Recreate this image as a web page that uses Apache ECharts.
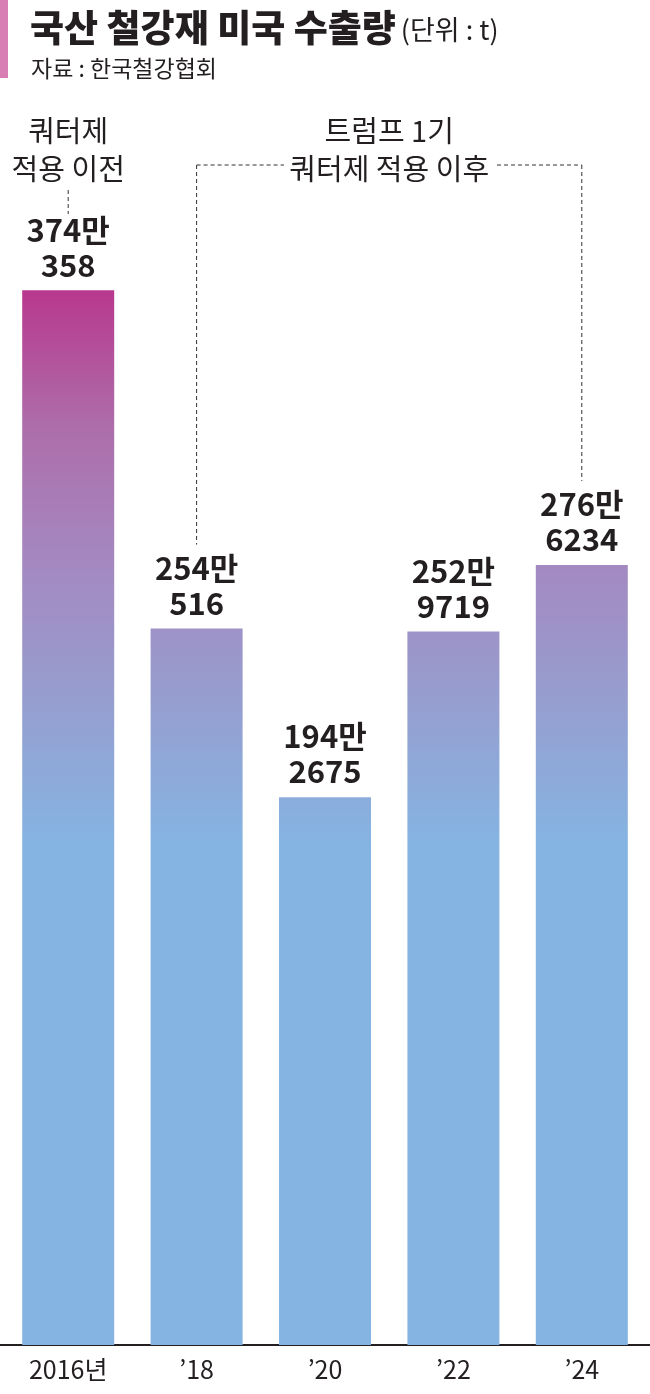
<!DOCTYPE html>
<html><head><meta charset="utf-8">
<script src="https://cdn.jsdelivr.net/npm/echarts@6/dist/echarts.min.js"></script>
<style>html,body{margin:0;padding:0;background:#fff}#c{width:650px;height:1394px}</style>
</head><body><div id="c"></div>
<script>
const categories = ['2016년', '’18', '’20', '’22', '’24'];
const values = [3740358, 2540516, 1942675, 2529719, 2766234];
const labelTop = ['374만', '254만', '194만', '252만', '276만'];
const labelBottom = ['358', '516', '2675', '9719', '6234'];

const FONT = '"Noto Sans CJK KR", "Noto Sans", sans-serif';
const chart = echarts.init(document.getElementById('c'), null, {renderer: 'canvas'});

const option = {
  animation: false,
  backgroundColor: '#fff',
  title: [
    {left: 25, top: 0, text: '{a|국산 철강재 미국 수출량} {b|(단위 : t)}',
     textStyle: {rich: {
       a: {fontFamily: FONT, fontSize: 37, fontWeight: 900, color: '#231f20', lineHeight: 46},
       b: {fontFamily: FONT, fontSize: 27, fontWeight: 'normal', color: '#231f20', lineHeight: 46, padding: [4,0,0,0]}
     }}},
    {left: 26, top: 52, text: '자료 : 한국철강협회',
     textStyle: {fontFamily: FONT, fontSize: 23, fontWeight: 'normal', color: '#231f20'}}
  ],
  grid: {left: 4, right: 4, top: 217, bottom: 49, containLabel: false},
  xAxis: {
    type: 'category', data: categories,
    axisLine: {show: false}, axisTick: {show: false},
    axisLabel: {fontFamily: FONT, fontSize: 25, color: '#231f20', margin: 12}
  },
  yAxis: {type: 'value', min: 0, max: 4000000, show: false, splitLine: {show: false}},
  series: [{
    type: 'bar', barWidth: 92,
    data: values,
    itemStyle: {color: new echarts.graphic.LinearGradient(0, 290, 0, 845, [
      {offset: 0, color: '#b8388e'},
      {offset: 0.25, color: '#ad6eab'},
      {offset: 0.5, color: '#a489c1'},
      {offset: 0.75, color: '#959fd0'},
      {offset: 1, color: '#85b4e2'}
    ], true)},
    label: {
      show: true, position: 'top', distance: 8,
      formatter: p => '{t|' + labelTop[p.dataIndex] + '}\n{t|' + labelBottom[p.dataIndex] + '}',
      rich: {t: {fontFamily: FONT, fontSize: 31, fontWeight: 'bold', color: '#231f20', lineHeight: 35, align: 'center'}}
    }
  }]
};
chart.setOption(option);

const px = i => chart.convertToPixel({gridIndex: 0}, [i, values[i]]);
const base = chart.convertToPixel({gridIndex: 0}, [0, 0])[1];
const p0 = px(0), p1 = px(1), p4 = px(4);
const dash = {stroke: '#333', lineWidth: 1, lineDash: [4, 3]};
const hY = 165;
const midX = (p1[0] + p4[0]) / 2;
const line = (x1, y1, x2, y2, st) => ({type: 'line', shape: {x1, y1, x2, y2}, style: st, silent: true});
chart.setOption({graphic: [
  {type: 'rect', shape: {x: 0, y: 0, width: 8, height: 78}, style: {fill: '#d97eb4'}},
  line(0, base, 650, base, {stroke: '#231f20', lineWidth: 2}),
  {type: 'text', x: p0[0], y: 112, style: {text: '쿼터제\n적용 이전', fontFamily: FONT, fontSize: 29, lineHeight: 38, fill: '#231f20', align: 'center'}},
  line(p0[0], 190, p0[0], 214, dash),
  {type: 'text', x: midX, y: 112, style: {text: '트럼프 1기\n쿼터제 적용 이후', fontFamily: FONT, fontSize: 29, lineHeight: 38, fill: '#231f20', align: 'center'}},
  line(p1[0], hY, 284, hY, dash),
  line(497, hY, p4[0], hY, dash),
  line(p1[0], hY, p1[0], p1[1] - 84, dash),
  line(p4[0], hY, p4[0], p4[1] - 84, dash)
]});
</script></body></html>
